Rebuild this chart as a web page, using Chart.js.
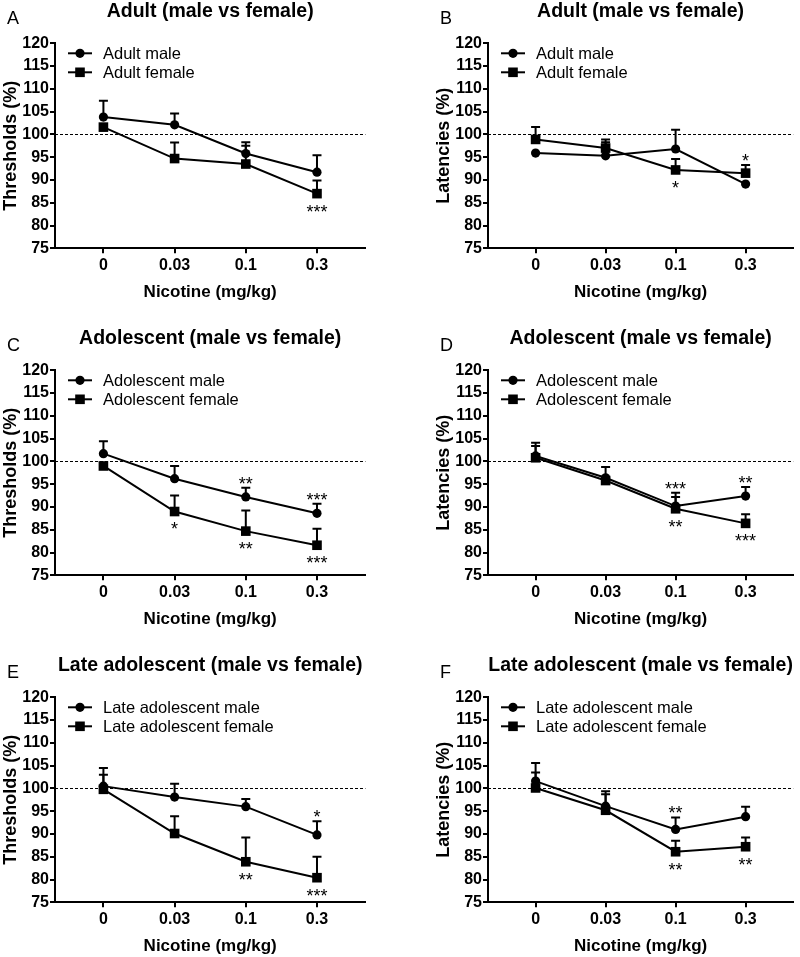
<!DOCTYPE html>
<html><head><meta charset="utf-8">
<script src="https://cdn.jsdelivr.net/npm/chart.js@4/dist/chart.umd.min.js"></script>
<style>
html,body{margin:0;padding:0;background:#fff;}
body{width:800px;height:957px;position:relative;overflow:hidden;}
canvas{position:absolute;}
</style></head><body>
<canvas id="cA" width="400" height="303" style="left:0px;top:0px"></canvas>
<canvas id="cB" width="400" height="303" style="left:400px;top:0px"></canvas>
<canvas id="cC" width="400" height="303" style="left:0px;top:327px"></canvas>
<canvas id="cD" width="400" height="303" style="left:400px;top:327px"></canvas>
<canvas id="cE" width="400" height="303" style="left:0px;top:654px"></canvas>
<canvas id="cF" width="400" height="303" style="left:400px;top:654px"></canvas>
<script>
// ---------- data ----------
const categories = ['0', '0.03', '0.1', '0.3'];
const xTitle = 'Nicotine (mg/kg)';
const yTitleThr = 'Thresholds (%)';
const yTitleLat = 'Latencies (%)';
const yMin = 75, yMax = 120, yStep = 5;
const refValue = 100;

// A: Adult thresholds
const adultMaleThr = [103.8, 102.1, 95.8, 91.7];
const adultMaleThrSem = [3.6, 2.5, 2.5, 3.7];
const adultFemaleThr = [101.6, 94.7, 93.5, 87.0];
const adultFemaleThrSem = [0, 3.5, 4.0, 2.9];
const adultThrSigAbove = ['', '', '', ''];
const adultThrSigBelow = ['', '', '', '***'];

// B: Adult latencies
const adultMaleLat = [95.9, 95.3, 96.8, 89.1];
const adultMaleLatSem = [0, 3.0, 4.2, 0];
const adultFemaleLat = [98.9, 97.0, 92.2, 91.5];
const adultFemaleLatSem = [2.7, 1.9, 2.4, 1.8];
const adultLatSigAbove = ['', '', '', '*'];
const adultLatSigBelow = ['', '', '*', ''];

// C: Adolescent thresholds
const adolMaleThr = [101.7, 96.2, 92.2, 88.6];
const adolMaleThrSem = [2.7, 2.8, 2.0, 2.1];
const adolFemaleThr = [99.0, 89.0, 84.7, 81.6];
const adolFemaleThrSem = [0, 3.5, 4.5, 3.6];
const adolThrSigAbove = ['', '', '**', '***'];
const adolThrSigBelow = ['', '*', '**', '***'];

// D: Adolescent latencies
const adolMaleLat = [101.2, 96.4, 90.2, 92.4];
const adolMaleLatSem = [2.9, 2.4, 2.9, 2.0];
const adolFemaleLat = [100.8, 95.8, 89.6, 86.4];
const adolFemaleLatSem = [2.6, 0, 2.6, 2.0];
const adolLatSigAbove = ['', '', '***', '**'];
const adolLatSigBelow = ['', '', '**', '***'];

// E: Late adolescent thresholds
const lateMaleThr = [100.5, 98.1, 96.0, 89.8];
const lateMaleThrSem = [4.0, 2.9, 1.7, 3.0];
const lateFemaleThr = [99.8, 90.1, 83.9, 80.4];
const lateFemaleThrSem = [3.2, 3.8, 5.3, 4.6];
const lateThrSigAbove = ['', '', '', '*'];
const lateThrSigBelow = ['', '', '**', '***'];

// F: Late adolescent latencies
const lateMaleLat = [101.6, 96.1, 91.0, 93.8];
const lateMaleLatSem = [4.0, 3.3, 2.6, 2.2];
const lateFemaleLat = [100.1, 95.2, 86.1, 87.2];
const lateFemaleLatSem = [3.4, 3.5, 2.4, 2.0];
const lateLatSigAbove = ['', '', '**', ''];
const lateLatSigBelow = ['', '', '**', '**'];

// ---------- drawing ----------
const FONT = "'Liberation Sans', Arial, Helvetica, sans-serif";
const INK = '#000';

function decorPlugin(p) {
  return {
    id: 'decor',
    beforeDatasetsDraw(chart) {
      const { ctx, chartArea: a, scales: { x, y } } = chart;
      ctx.save();
      ctx.strokeStyle = INK;
      ctx.lineWidth = 1;
      ctx.setLineDash([3, 2]);
      const yr = Math.round(y.getPixelForValue(refValue)) + 0.5;
      ctx.beginPath(); ctx.moveTo(a.left, yr); ctx.lineTo(a.right, yr); ctx.stroke();
      ctx.setLineDash([]);
      ctx.lineWidth = 2;
      chart.data.datasets.forEach(ds => {
        ds.sem.forEach((s, i) => {
          if (!s) return;
          const v = ds.data[i].y;
          const px = x.getPixelForValue(i), py = y.getPixelForValue(v), pt = y.getPixelForValue(v + s);
          ctx.beginPath();
          ctx.moveTo(px, py); ctx.lineTo(px, pt);
          ctx.moveTo(px - 4.5, pt); ctx.lineTo(px + 4.5, pt);
          ctx.stroke();
        });
      });
      ctx.restore();
    },
    afterDatasetsDraw(chart) {
      const { ctx, chartArea: a, scales: { x, y } } = chart;
      const dss = chart.data.datasets;
      ctx.save();
      // legend
      dss.forEach((ds, i) => {
        const cy = a.top + 10 + i * 19;
        const x0 = a.left + 13;
        ctx.strokeStyle = INK; ctx.fillStyle = INK; ctx.lineWidth = 2;
        ctx.beginPath(); ctx.moveTo(x0, cy); ctx.lineTo(x0 + 24, cy); ctx.stroke();
        if (ds.pointStyle === 'rect') {
          ctx.fillRect(x0 + 12 - 4.8, cy - 4.8, 9.6, 9.6);
        } else {
          ctx.beginPath(); ctx.arc(x0 + 12, cy, 4.6, 0, Math.PI * 2); ctx.fill();
        }
        ctx.font = '16.5px ' + FONT;
        ctx.textAlign = 'left'; ctx.textBaseline = 'middle';
        ctx.fillText(ds.label, x0 + 35, cy + 1);
      });
      // panel letter
      ctx.font = '18px ' + FONT;
      ctx.textAlign = 'left'; ctx.textBaseline = 'middle';
      ctx.fillText(p.letter, a.left - 48, a.top - 24.5);
      // significance marks
      ctx.font = '18px ' + FONT;
      ctx.textAlign = 'center'; ctx.textBaseline = 'alphabetic';
      categories.forEach((c, i) => {
        const px = x.getPixelForValue(i);
        if (p.sigAbove[i]) {
          const top = Math.max(...dss.map(ds => ds.data[i].y + (ds.sem[i] || 0)));
          ctx.fillText(p.sigAbove[i], px, y.getPixelForValue(top) - 8.5 + 10.4);
        }
        if (p.sigBelow[i]) {
          const low = Math.min(...dss.map(ds => ds.data[i].y));
          ctx.fillText(p.sigBelow[i], px, y.getPixelForValue(low) + 13.5 + 10.4);
        }
      });
      ctx.restore();
    }
  };
}

function toPoints(vals) { return vals.map((v, i) => ({ x: i, y: v })); }

const panels = [
  { id: 'cA', side: 0, letter: 'A', title: 'Adult (male vs female)', yTitle: yTitleThr, names: ['Adult male', 'Adult female'],
    male: adultMaleThr, maleSem: adultMaleThrSem, female: adultFemaleThr, femaleSem: adultFemaleThrSem, sigAbove: adultThrSigAbove, sigBelow: adultThrSigBelow },
  { id: 'cB', side: 1, letter: 'B', title: 'Adult (male vs female)', yTitle: yTitleLat, names: ['Adult male', 'Adult female'],
    male: adultMaleLat, maleSem: adultMaleLatSem, female: adultFemaleLat, femaleSem: adultFemaleLatSem, sigAbove: adultLatSigAbove, sigBelow: adultLatSigBelow },
  { id: 'cC', side: 0, letter: 'C', title: 'Adolescent (male vs female)', yTitle: yTitleThr, names: ['Adolescent male', 'Adolescent female'],
    male: adolMaleThr, maleSem: adolMaleThrSem, female: adolFemaleThr, femaleSem: adolFemaleThrSem, sigAbove: adolThrSigAbove, sigBelow: adolThrSigBelow },
  { id: 'cD', side: 1, letter: 'D', title: 'Adolescent (male vs female)', yTitle: yTitleLat, names: ['Adolescent male', 'Adolescent female'],
    male: adolMaleLat, maleSem: adolMaleLatSem, female: adolFemaleLat, femaleSem: adolFemaleLatSem, sigAbove: adolLatSigAbove, sigBelow: adolLatSigBelow },
  { id: 'cE', side: 0, letter: 'E', title: 'Late adolescent (male vs female)', yTitle: yTitleThr, names: ['Late adolescent male', 'Late adolescent female'],
    male: lateMaleThr, maleSem: lateMaleThrSem, female: lateFemaleThr, femaleSem: lateFemaleThrSem, sigAbove: lateThrSigAbove, sigBelow: lateThrSigBelow },
  { id: 'cF', side: 1, letter: 'F', title: 'Late adolescent (male vs female)', yTitle: yTitleLat, names: ['Late adolescent male', 'Late adolescent female'],
    male: lateMaleLat, maleSem: lateMaleLatSem, female: lateFemaleLat, femaleSem: lateFemaleLatSem, sigAbove: lateLatSigAbove, sigBelow: lateLatSigBelow }
];

const axisGrid = { display: true, drawOnChartArea: false, drawTicks: true, tickLength: 5, color: INK, lineWidth: 2 };
const axisBorder = { display: true, color: INK, width: 2 };

panels.forEach(p => {
  const padLeft = p.side ? 33 : 0;
  const padRight = p.side ? 1.6 : 34.6;
  new Chart(document.getElementById(p.id), {
    type: 'line',
    data: {
      datasets: [
        { label: p.names[0], data: toPoints(p.male), sem: p.maleSem, borderColor: INK, borderWidth: 2,
          pointStyle: 'circle', pointRadius: 4.6, pointBackgroundColor: INK, pointBorderColor: INK, pointBorderWidth: 0, tension: 0, clip: false },
        { label: p.names[1], data: toPoints(p.female), sem: p.femaleSem, borderColor: INK, borderWidth: 2,
          pointStyle: 'rect', pointRadius: 6.8, pointBackgroundColor: INK, pointBorderColor: INK, pointBorderWidth: 0, tension: 0, clip: false }
      ]
    },
    options: {
      responsive: false, maintainAspectRatio: false, animation: false, devicePixelRatio: 1, events: [],
      layout: { padding: { left: padLeft, right: padRight, top: 0, bottom: 0 } },
      plugins: {
        legend: { display: false }, tooltip: { enabled: false },
        title: { display: true, text: p.title, fullSize: false, color: INK,
          font: { family: FONT, size: 19.5, weight: 'bold' }, padding: { top: 0, bottom: 19.9 } }
      },
      scales: {
        x: {
          type: 'linear', min: -0.68, max: 3.68,
          afterBuildTicks: ax => { ax.ticks = categories.map((c, i) => ({ value: i })); },
          afterFit: ax => { ax.height = 54.7; },
          ticks: { callback: v => categories[v] ?? '', color: INK, font: { family: FONT, size: 16, weight: 'bold' }, padding: 3, maxRotation: 0, autoSkip: false },
          grid: axisGrid, border: axisBorder,
          title: { display: true, text: xTitle, color: INK, font: { family: FONT, size: 17, weight: 'bold' }, padding: { top: 0, bottom: 0 } }
        },
        y: {
          min: yMin, max: yMax,
          afterFit: ax => { ax.width = 55; },
          ticks: { stepSize: yStep, color: INK, font: { family: FONT, size: 16, weight: 'bold' }, padding: 1 },
          grid: axisGrid, border: axisBorder,
          title: { display: true, text: p.yTitle, color: INK, font: { family: FONT, size: 18, weight: 'bold' }, padding: 0 }
        }
      }
    },
    plugins: [decorPlugin(p)]
  });
});
</script>
</body></html>
